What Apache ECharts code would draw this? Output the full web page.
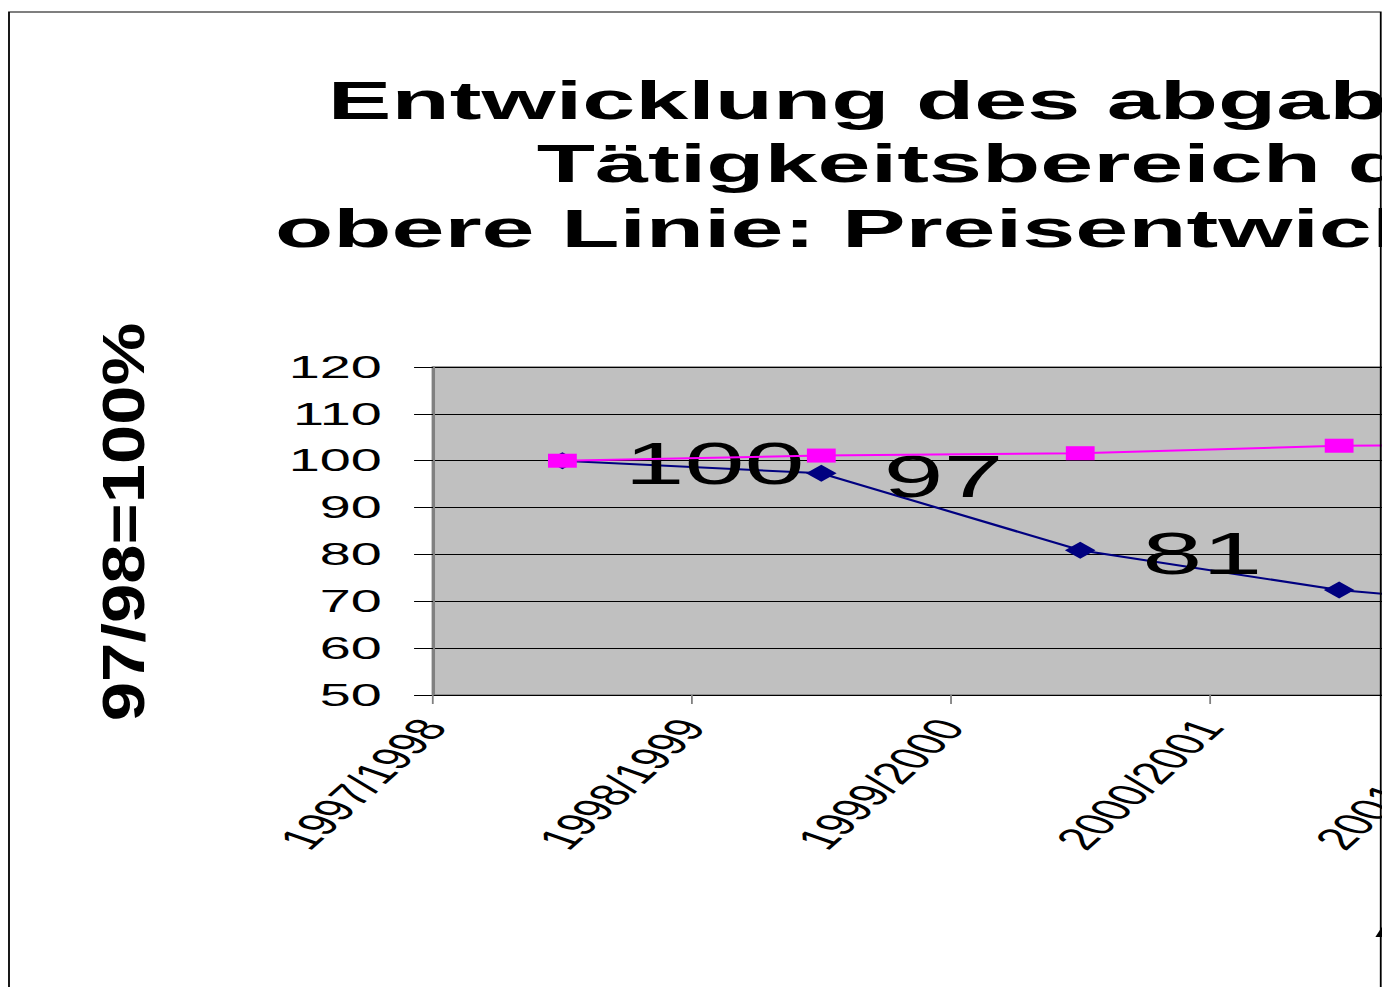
<!DOCTYPE html>
<html><head><meta charset="utf-8">
<script src="https://cdn.jsdelivr.net/npm/echarts@6/dist/echarts.min.js"></script>
<style>
html,body{margin:0;padding:0;overflow:hidden;background:#fff;width:1382px;height:987px;}
#c{width:1100px;height:987px;transform:scaleX(1.79948);transform-origin:0 0;}
</style></head><body><div id="c"></div>
<script>
// ---- data ----
const categories = ['1997/1998', '1998/1999', '1999/2000', '2000/2001', '2001/2002'];
const umsatzIndex = [100, 97.3, 80.9, 72.4, 67.5];   // lower line (navy, labelled)
const preisIndex  = [100, 101.1, 101.6, 103.2, 103.6]; // upper line (magenta)
const yMin = 50, yMax = 120, yStep = 10;
const titleLines = ['Entwicklung des abgabepflichtigen', 'Tätigkeitsbereich der', 'obere Linie: Preisentwicklung'];
const yTitle = '97/98=100%';
const xTitle = 'A';

const FF = '"Liberation Sans", Arial, sans-serif';
const chart = echarts.init(document.getElementById('c'), null, {renderer: 'svg'});
chart.setOption({
  animation: false,
  backgroundColor: '#fff',
  grid: {left: 240.6, top: 367, bottom: 292, width: 719.4, show: true,
         backgroundColor: '#c0c0c0', borderColor: '#808080', borderWidth: 1.5, containLabel: false},
  xAxis: {type: 'value', min: 0, max: categories.length, interval: 1,
    axisLine: {show: true, lineStyle: {color: '#000', width: 1}},
    axisTick: {show: true, length: 9, lineStyle: {color: '#808080'}},
    splitLine: {show: false},
    axisLabel: {rotate: 58, margin: 27, fontSize: 31, color: '#000', fontFamily: FF,
      formatter: v => categories[v] || ''}},
  yAxis: {type: 'value', min: yMin, max: yMax, interval: yStep,
    axisLine: {show: true, lineStyle: {color: '#808080', width: 1.5}},
    axisTick: {show: true, length: 10.5, lineStyle: {color: '#000'}},
    splitLine: {show: true, lineStyle: {color: '#000', width: 1}},
    axisLabel: {margin: 28.4, fontSize: 31, color: '#000', fontFamily: FF}},
  series: [
    {type: 'line', name: 'Umsatz', z: 2,
     data: umsatzIndex.map((v, i) => [i + 0.5, v]),
     symbol: 'diamond', symbolSize: 17,
     itemStyle: {color: '#000080'}, lineStyle: {color: '#000080', width: 2},
     label: {show: true, position: 'right', distance: 26, offset: [0, 3],
       formatter: p => Math.round(p.value[1]), fontSize: 60, color: '#000', fontFamily: FF}},
    {type: 'line', name: 'Preise', z: 3,
     data: preisIndex.map((v, i) => [i + 0.5, v]),
     symbol: 'rect', symbolSize: [16, 14],
     itemStyle: {color: '#ff00ff'}, lineStyle: {color: '#ff00ff', width: 2}}
  ],
  graphic: [
    {type: 'rect', shape: {x: 6, y: 706, width: 1090, height: 10}, silent: true, z: 200,
     style: {fill: '#fff', stroke: 'none'}},
    {type: 'rect', shape: {x: 5, y: 12, width: 762.3, height: 1100}, silent: true, z: 210,
     style: {fill: 'none', stroke: '#000', lineWidth: 1}},
    {type: 'text', x: 182.2, y: 100, z: 210, style: {text: titleLines[0], font: 'bold 53px ' + FF, fill: '#000', verticalAlign: 'middle'}},
    {type: 'text', x: 298.3, y: 163, z: 210, style: {text: titleLines[1], font: 'bold 53px ' + FF, fill: '#000', verticalAlign: 'middle'}},
    {type: 'text', x: 152.8, y: 228, z: 210, style: {text: titleLines[2], font: 'bold 53px ' + FF, fill: '#000', verticalAlign: 'middle'}},
    {type: 'text', x: 68.9, y: 522, rotation: Math.PI / 2, scaleX: 2.14, z: 210,
     style: {text: yTitle, font: 'bold 33px ' + FF, fill: '#000', align: 'center', verticalAlign: 'middle'}},
    {type: 'text', x: 763, y: 918, z: 210, style: {text: xTitle, font: 'bold 53px ' + FF, fill: '#000', verticalAlign: 'middle'}}
  ]
});
</script></body></html>
